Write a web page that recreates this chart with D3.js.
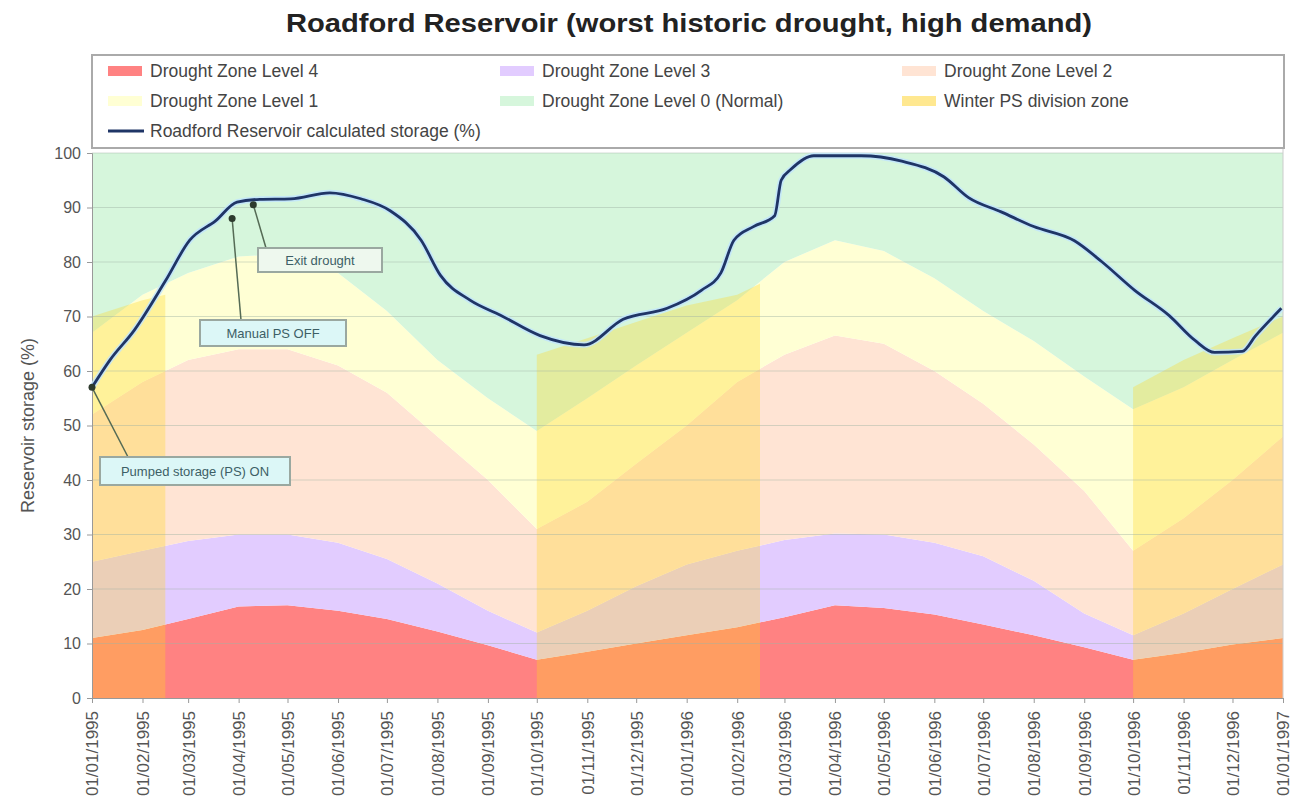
<!DOCTYPE html>
<html><head><meta charset="utf-8">
<script src="https://cdn.jsdelivr.net/npm/d3@7"></script>
<style>body{margin:0;background:#fff;} svg{display:block;font-family:"Liberation Sans",Arial,sans-serif;}</style>
</head><body><svg id="c" width="1306" height="810"></svg>
<script>
// ---------- DATA ----------
const monthDates = ["1995-01-01","1995-02-01","1995-03-01","1995-04-01","1995-05-01","1995-06-01","1995-07-01","1995-08-01","1995-09-01","1995-10-01","1995-11-01","1995-12-01",
  "1996-01-01","1996-02-01","1996-03-01","1996-04-01","1996-05-01","1996-06-01","1996-07-01","1996-08-01","1996-09-01","1996-10-01","1996-11-01","1996-12-01","1997-01-01"];
const tickLabels = ["01/01/1995","01/02/1995","01/03/1995","01/04/1995","01/05/1995","01/06/1995","01/07/1995","01/08/1995","01/09/1995","01/10/1995","01/11/1995","01/12/1995",
  "01/01/1996","01/02/1996","01/03/1996","01/04/1996","01/05/1996","01/06/1996","01/07/1996","01/08/1996","01/09/1996","01/10/1996","01/11/1996","01/12/1996","01/01/1997"];
const level4Top = [11, 12.5, 14.5, 16.8, 17, 16, 14.5, 12.2, 9.7, 7, 8.5, 10, 11.5, 13, 14.8, 17, 16.5, 15.3, 13.5, 11.5, 9.3, 7, 8.3, 9.8, 11];
const level3Top = [25, 27, 28.8, 30, 30, 28.5, 25.5, 21, 16, 12, 16, 20.5, 24.5, 27, 29, 30.2, 30, 28.5, 26, 21.5, 15.5, 11.5, 15.5, 20, 24.5];
const level2Top = [52, 58, 62, 64, 64, 61, 56, 48, 40, 31, 36, 43, 50, 58, 63, 66.5, 65, 60, 54, 46.5, 38, 27, 33, 40, 48];
const level1Top = [67, 74, 78, 81, 81.5, 78, 71, 62, 55, 49, 55, 61, 67, 73, 80, 84, 82, 77, 71, 65.5, 59, 53, 57, 62, 67];

const winterDates1 = ["1995-01-01","1995-02-01","1995-02-15"];
const winterTop1 = [70, 73, 74];
const winterDates2 = ["1995-10-01","1995-11-01","1995-12-01","1996-01-01","1996-02-01","1996-02-15"];
const winterTop2 = [63, 66, 69, 72, 74, 76];
const winterDates3 = ["1996-10-01","1996-11-01","1996-12-01","1997-01-01"];
const winterTop3 = [57, 62, 66, 70];

const storageDates = ["1995-01-01","1995-01-12","1995-01-27","1995-02-15","1995-03-02","1995-03-18","1995-03-31","1995-04-14","1995-05-03","1995-05-27","1995-06-15","1995-07-03","1995-07-22","1995-08-03","1995-08-21","1995-09-09","1995-10-03","1995-10-30","1995-11-23","1995-12-20",
  "1996-01-10","1996-01-22","1996-01-30","1996-02-11","1996-02-24","1996-02-28","1996-03-05","1996-03-19","1996-04-17","1996-05-12","1996-06-07","1996-06-22","1996-07-12","1996-08-01","1996-08-26","1996-09-12","1996-10-02","1996-10-23","1996-11-08","1996-11-20","1996-12-07","1996-12-15","1996-12-31"];
const storageValues = [57, 62, 67.5, 76.5, 84, 87.6, 91, 91.5, 91.6, 92.7, 91.6, 89.4, 84, 77.5, 73, 70.2, 66.5, 64.8, 69.5, 71.5,
  74.8, 78, 84, 86.5, 88.5, 95, 97, 99.5, 99.5, 98.5, 95.6, 91.8, 89.2, 86.5, 83.9, 80, 74.8, 70.2, 65.6, 63.4, 63.6, 66.4, 71.5];

const seriesNames = ["Drought Zone Level 4","Drought Zone Level 3","Drought Zone Level 2","Drought Zone Level 1","Drought Zone Level 0 (Normal)","Winter PS division zone","Roadford Reservoir calculated storage (%)"];
const annotationTexts = ["Exit drought", "Manual PS OFF", "Pumped storage (PS) ON"];
const annotationDates = ["1995-04-10", "1995-03-28", "1995-01-01"];
const annotationValues = [90.5, 88, 57];

// ---------- STYLE ----------
const zoneColors = ["#ff8282", "#e2ccff", "#ffe4d4", "#ffffd4", "#d6f6dc"];
const winterColor = "rgba(255,215,30,0.32)";
const lineColor = "#1f3566";
const m = {l: 92, r: 1283, t: 153, b: 698};

const parse = d3.timeParse("%Y-%m-%d");
const svg = d3.select("#c");
const x = d3.scaleTime().domain([parse(monthDates[0]), parse(monthDates[monthDates.length-1])]).range([m.l, m.r]);
const y = d3.scaleLinear().domain([0, 100]).range([m.b, m.t]);

// title
svg.append("text").attr("x", 689).attr("y", 32).attr("text-anchor", "middle")
  .attr("font-size", 26).attr("font-weight", "bold").attr("fill", "#222")
  .attr("textLength", 806).attr("lengthAdjust", "spacingAndGlyphs")
  .text("Roadford Reservoir (worst historic drought, high demand)");

// zone table
const table = monthDates.map((d, i) => ({date: parse(d), b: [0, level4Top[i], level3Top[i], level2Top[i], level1Top[i], 100]}));
const g = svg.append("g");
for (let k = 0; k < 5; k++) {
  const area = d3.area().x(d => x(d.date)).y0(d => y(d.b[k])).y1(d => y(d.b[k+1]));
  g.append("path").datum(table).attr("d", area).attr("fill", zoneColors[k]);
}
// winter overlay
[[winterDates1, winterTop1], [winterDates2, winterTop2], [winterDates3, winterTop3]].forEach(([ds, vs]) => {
  const rows = ds.map((d, i) => ({date: parse(d), v: vs[i]}));
  g.append("path").datum(rows)
    .attr("d", d3.area().x(d => x(d.date)).y0(y(0)).y1(d => y(d.v)))
    .attr("fill", winterColor);
});

// gridlines
const yTicks = d3.range(0, 101, 10);
svg.append("g").selectAll("line").data(yTicks.filter(v => v > 0)).join("line")
  .attr("x1", m.l).attr("x2", m.r).attr("y1", d => y(d)).attr("y2", d => y(d))
  .attr("stroke", "#9fb3a4").attr("stroke-opacity", 0.45).attr("stroke-width", 1);

// axes
const yAxis = svg.append("g").attr("transform", `translate(${m.l},0)`)
  .call(d3.axisLeft(y).tickValues(yTicks).tickSize(5).tickPadding(6));
yAxis.select(".domain").attr("stroke", "#999");
yAxis.selectAll(".tick line").attr("stroke", "#999");
yAxis.selectAll("text").attr("font-size", 16).attr("fill", "#555").attr("font-family", "Liberation Sans, Arial");

const xAxis = svg.append("g").attr("transform", `translate(0,${m.b})`)
  .call(d3.axisBottom(x).tickValues(monthDates.map(parse)).tickSize(5)
    .tickFormat((d, i) => tickLabels[i]));
xAxis.select(".domain").attr("stroke", "#999");
xAxis.selectAll(".tick line").attr("stroke", "#999");
xAxis.selectAll("text").attr("font-size", 17).attr("fill", "#555").attr("font-family", "Liberation Sans, Arial")
  .attr("transform", "rotate(-90)").attr("text-anchor", "end").attr("x", -13).attr("y", 0).attr("dy", "0.35em");

// right border
svg.append("line").attr("x1", m.r).attr("x2", m.r).attr("y1", m.t - 4).attr("y2", m.b).attr("stroke", "#ccc");

svg.append("text").attr("transform", `translate(34,${(m.t + m.b) / 2}) rotate(-90)`)
  .attr("text-anchor", "middle").attr("font-size", 18).attr("fill", "#555")
  .text("Reservoir storage (%)");

// storage line
const sRows = storageDates.map((d, i) => ({date: parse(d), v: storageValues[i]}));
const line = d3.line().x(d => x(d.date)).y(d => y(d.v)).curve(d3.curveMonotoneX);
svg.append("path").datum(sRows).attr("d", line).attr("fill", "none").attr("stroke", "#bfe4ff").attr("stroke-width", 6).attr("stroke-opacity", 0.8);
svg.append("path").datum(sRows).attr("d", line).attr("fill", "none").attr("stroke", lineColor).attr("stroke-width", 2.8);

// annotations (box positions are layout)
const boxes = [
  {bx: 258, by: 248, bw: 124, bh: 24},
  {bx: 200, by: 320, bw: 146, bh: 26},
  {bx: 100, by: 457, bw: 190, bh: 28}
];
const leaderEnds = [[266, 248], [241, 320], [128, 457]];
annotationTexts.forEach((t, i) => {
  const px = x(parse(annotationDates[i])), py = y(annotationValues[i]);
  const b = boxes[i];
  svg.append("line").attr("x1", px).attr("y1", py).attr("x2", leaderEnds[i][0]).attr("y2", leaderEnds[i][1])
    .attr("stroke", "#556b55").attr("stroke-width", 1.5);
  svg.append("rect").attr("x", b.bx).attr("y", b.by).attr("width", b.bw).attr("height", b.bh)
    .attr("fill", i === 0 ? "#eef8ee" : "#dcf7f7").attr("stroke", "#9aa8a0").attr("stroke-width", 2);
  svg.append("text").attr("x", b.bx + b.bw / 2).attr("y", b.by + b.bh / 2).attr("dy", "0.35em")
    .attr("text-anchor", "middle").attr("font-size", 13).attr("fill", "#3d5f66").text(t);
  svg.append("circle").attr("cx", px).attr("cy", py).attr("r", 3.5).attr("fill", "#2d3a2d");
});

// legend
const lg = svg.append("g");
lg.append("rect").attr("x", 92).attr("y", 55).attr("width", 1192).attr("height", 93)
  .attr("fill", "#fff").attr("stroke", "#aaa").attr("stroke-width", 2);
const legendCols = [108, 500, 902];
const legendRows = [71, 101, 131];
const legendSw = [zoneColors[0], zoneColors[1], zoneColors[2], zoneColors[3], zoneColors[4], "#ffe890"];
seriesNames.forEach((name, i) => {
  const cx = legendCols[i % 3], cy = legendRows[Math.floor(i / 3)];
  if (i < 6) {
    lg.append("rect").attr("x", cx).attr("y", cy - 5).attr("width", 34).attr("height", 10).attr("fill", legendSw[i]);
  } else {
    lg.append("line").attr("x1", cx).attr("x2", cx + 36).attr("y1", cy).attr("y2", cy)
      .attr("stroke", lineColor).attr("stroke-width", 3);
  }
  lg.append("text").attr("x", cx + 42).attr("y", cy).attr("dy", "0.35em")
    .attr("font-size", 17.5).attr("fill", "#444").text(name);
});
</script></body></html>
